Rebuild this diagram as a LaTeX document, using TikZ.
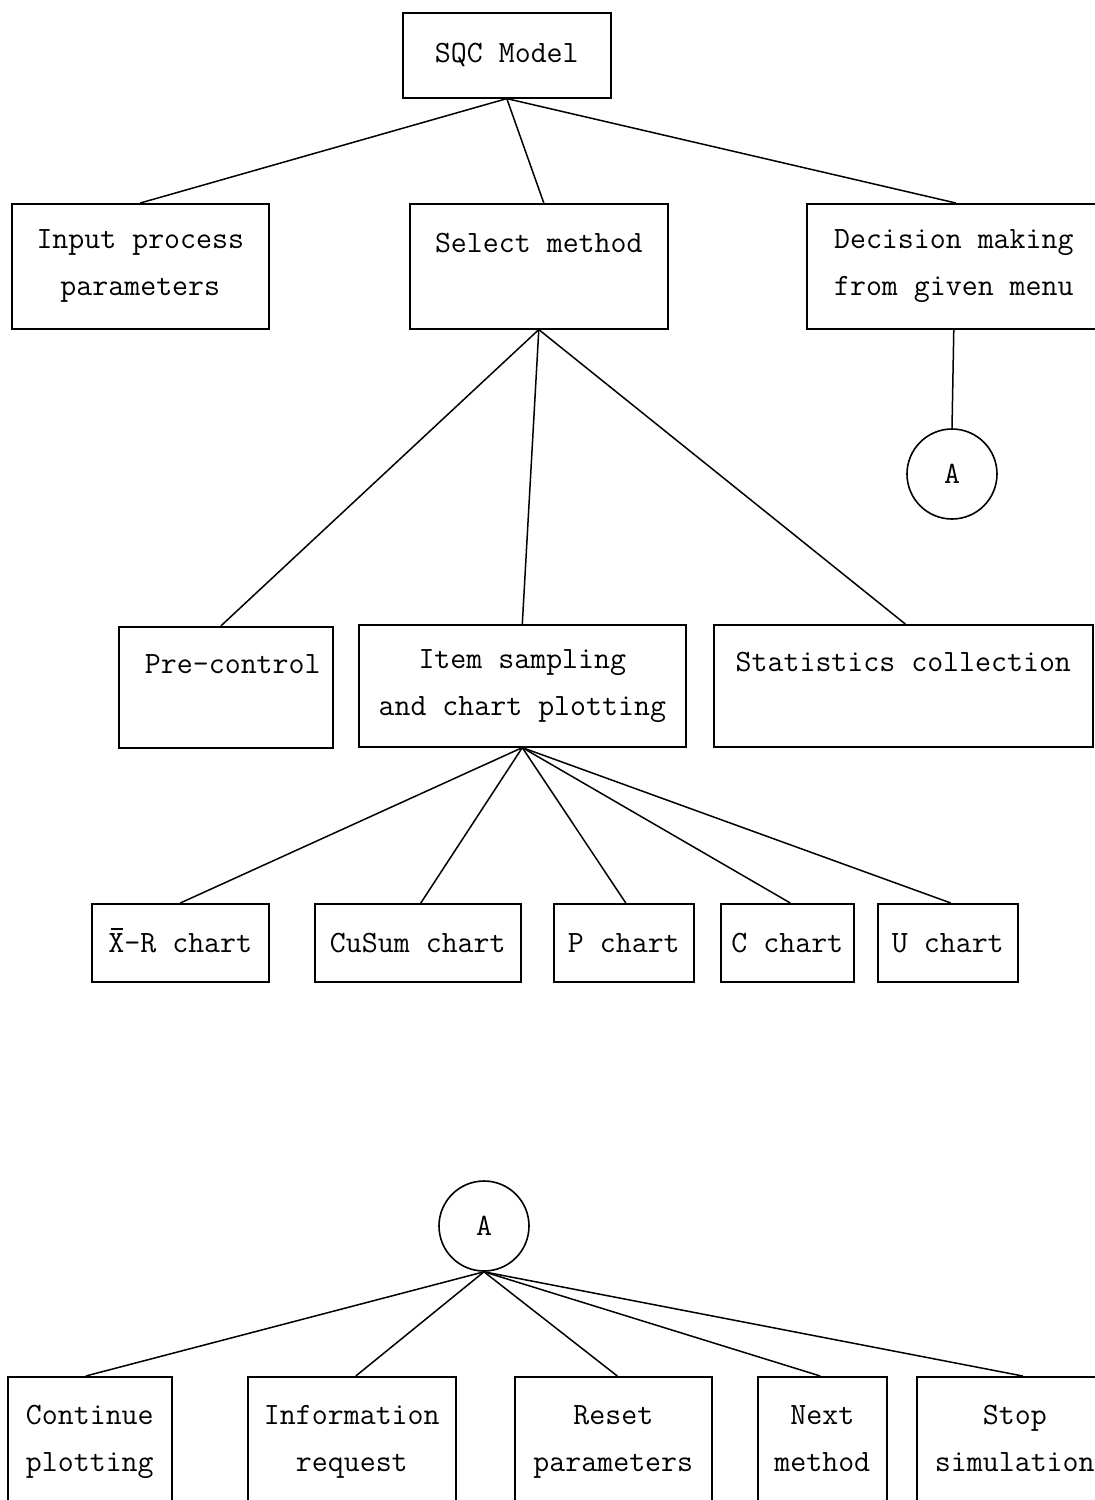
\documentclass[tikz,border=0pt]{standalone}
\usepackage{fontspec}
\setmonofont{Latin Modern Mono}
% X with a bar drawn over it
\newcommand{\barX}{\makebox[0pt][l]{\smash{\hspace{0.07em}\rule[0.72em]{0.4em}{0.05em}}}X}
\begin{document}
\begin{tikzpicture}[x=1pt,y=-1pt,
  txt/.style={font=\fontsize{31}{47}\selectfont\ttfamily},
  box/.style={txt, draw, line width=1.6pt, anchor=north west, inner sep=0pt, align=center},
  conn/.style={draw, circle, txt, line width=1.6pt, minimum size=90pt, inner sep=0pt},
  link/.style={line width=1.5pt}]
\useasboundingbox (0,0) rectangle (1095,1500);
\clip (0,0) rectangle (1095,1500);

% top level
\node[box, minimum width=208pt, minimum height=85pt] (sqc) at (402,12) {SQC Model};
\node[box, minimum width=257pt, minimum height=125pt] (inp) at (11,203) {Input process\\parameters};
\node[box, minimum width=258pt, minimum height=125pt] (sel) at (409,203) {Select method\\\mbox{}};
\node[box, minimum width=294pt, minimum height=125pt] (dec) at (806,203) {Decision making\\from given menu};
\node[conn] (ca) at (952,474) {A};

% methods
\node[box, minimum width=214pt, minimum height=121pt] (pre) at (118,626) {\hspace*{14pt}Pre-control\\\mbox{}};
\node[box, minimum width=327pt, minimum height=122pt] (item) at (358,624) {Item sampling\\and chart plotting};
\node[box, minimum width=379pt, minimum height=122pt] (stat) at (713,624) {Statistics collection\\\mbox{}};

% chart types
\node[box, minimum width=177pt, minimum height=78pt] (xr) at (91,903) {\barX-R chart};
\node[box, minimum width=206pt, minimum height=78pt] (cus) at (314,903) {CuSum chart};
\node[box, minimum width=140pt, minimum height=78pt] (pc) at (553,903) {P chart};
\node[box, minimum width=133pt, minimum height=78pt] (cc) at (720,903) {C chart};
\node[box, minimum width=140pt, minimum height=78pt] (uc) at (877,903) {U chart};

% menu A
\node[conn] (cb) at (484,1226) {A};
\node[box, minimum width=164pt, minimum height=170pt] (cont) at (7,1376) {Continue\\plotting\\\mbox{}};
\node[box, minimum width=208pt, minimum height=170pt] (info) at (247,1376) {Information\\request\\\mbox{}};
\node[box, minimum width=197pt, minimum height=170pt] (rst) at (514,1376) {Reset\\parameters\\\mbox{}};
\node[box, minimum width=129pt, minimum height=170pt] (nxt) at (757,1376) {Next\\method\\\mbox{}};
\node[box, minimum width=196pt, minimum height=170pt] (stp) at (916,1376) {Stop\\simulation\\\mbox{}};

% connectors
\draw[link] (sqc.south) -- (inp.north);
\draw[link] (sqc.south) -- ([xshift=5pt]sel.north);
\draw[link] (sqc.south) -- ([xshift=2pt]dec.north);
\draw[link] (dec.south) -- (ca.north);

\draw[link] (sel.south) -- ([xshift=-5pt]pre.north);
\draw[link] (sel.south) -- (item.north);
\draw[link] (sel.south) -- ([xshift=2pt]stat.north);

\draw[link] (item.south) -- (xr.north);
\draw[link] (item.south) -- ([xshift=3pt]cus.north);
\draw[link] (item.south) -- ([xshift=2pt]pc.north);
\draw[link] (item.south) -- ([xshift=3pt]cc.north);
\draw[link] (item.south) -- ([xshift=3pt]uc.north);

\draw[link] (cb.south) -- ([xshift=-4pt]cont.north);
\draw[link] (cb.south) -- ([xshift=4pt]info.north);
\draw[link] (cb.south) -- ([xshift=4pt]rst.north);
\draw[link] (cb.south) -- ([xshift=-2pt]nxt.north);
\draw[link] (cb.south) -- ([xshift=8pt]stp.north);
\end{tikzpicture}
\end{document}
